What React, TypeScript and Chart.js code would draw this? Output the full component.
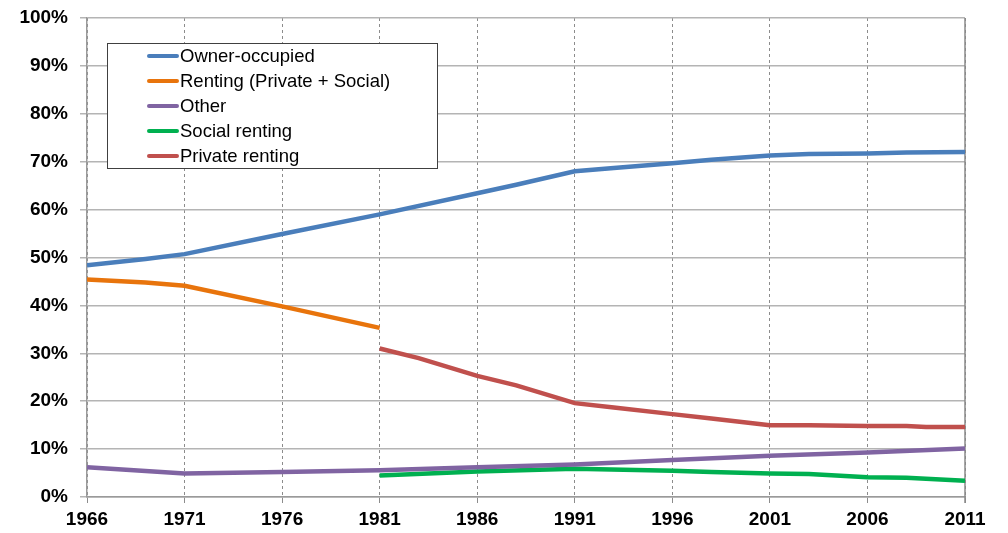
import React, { useEffect, useRef } from "react";
import { Chart, registerables } from "chart.js";

Chart.register(...registerables);

const X_TICKS = [1966, 1971, 1976, 1981, 1986, 1991, 1996, 2001, 2006, 2011];
const Y_TICKS = [0, 10, 20, 30, 40, 50, 60, 70, 80, 90, 100];

const OWNER_YEARS = [1966, 1969, 1971, 1976, 1981, 1986, 1988, 1991, 1993, 1996, 1998, 2001, 2003, 2006, 2008, 2011];
const OWNER_VALUES = [48.4, 49.7, 50.7, 54.9, 59.0, 63.4, 65.2, 68.0, 68.7, 69.7, 70.4, 71.3, 71.6, 71.7, 71.9, 72.0];

const RENTING_YEARS = [1966, 1969, 1971, 1976, 1981];
const RENTING_VALUES = [45.4, 44.8, 44.1, 39.8, 35.3];

const OTHER_YEARS = [1966, 1971, 1976, 1981, 1986, 1991, 1996, 2001, 2006, 2011];
const OTHER_VALUES = [6.2, 4.9, 5.2, 5.6, 6.2, 6.8, 7.7, 8.6, 9.3, 10.1];

const SOCIAL_YEARS = [1981, 1986, 1991, 1996, 1998, 2001, 2003, 2006, 2008, 2011];
const SOCIAL_VALUES = [4.5, 5.3, 5.9, 5.5, 5.2, 4.9, 4.8, 4.1, 4.0, 3.4];

const PRIVATE_YEARS = [1981, 1983, 1986, 1988, 1991, 1993, 1996, 1998, 2001, 2003, 2006, 2008, 2009, 2011];
const PRIVATE_VALUES = [31.0, 29.0, 25.3, 23.3, 19.6, 18.7, 17.3, 16.4, 15.0, 15.0, 14.8, 14.8, 14.6, 14.6];

const LABELS = ["Owner-occupied", "Renting (Private + Social)", "Other", "Social renting", "Private renting"];
const COLORS = ["#4A7EBB", "#E8740C", "#8064A2", "#00B050", "#C0504D"];

const FONT = '"Liberation Sans", Arial, sans-serif';

const toPoints = (xs: number[], ys: number[]) => xs.map((x, i) => ({ x, y: ys[i] }));

const insideLegend = {
  id: "insideLegend",
  afterDraw(chart: any) {
    const { ctx, chartArea } = chart;
    const x = chartArea.left + 20;
    const y = chartArea.top + 25;
    const w = 330;
    const h = 125;
    ctx.save();
    ctx.fillStyle = "#ffffff";
    ctx.fillRect(x, y, w, h);
    ctx.strokeStyle = "#404040";
    ctx.lineWidth = 1;
    ctx.strokeRect(x + 0.5, y + 0.5, w, h);
    ctx.font = `18.5px ${FONT}`;
    ctx.textBaseline = "middle";
    ctx.textAlign = "left";
    chart.data.datasets.forEach((ds: any, i: number) => {
      const cy = y + 13 + i * 25;
      ctx.strokeStyle = ds.borderColor;
      ctx.lineWidth = 4;
      ctx.lineCap = "round";
      ctx.beginPath();
      ctx.moveTo(x + 42, cy);
      ctx.lineTo(x + 70, cy);
      ctx.stroke();
      ctx.fillStyle = "#000000";
      ctx.fillText(ds.label, x + 73, cy + 1);
    });
    ctx.restore();
  },
};

const rightBorder = {
  id: "rightBorder",
  beforeDatasetsDraw(chart: any) {
    const { ctx, chartArea } = chart;
    ctx.save();
    ctx.strokeStyle = "#8a8a8a";
    ctx.lineWidth = 1.5;
    ctx.beginPath();
    ctx.moveTo(chartArea.right, chartArea.top);
    ctx.lineTo(chartArea.right, chartArea.bottom + 6);
    ctx.stroke();
    ctx.restore();
  },
};

export default function App() {
  const ref = useRef<HTMLCanvasElement | null>(null);

  useEffect(() => {
    if (!ref.current) return;
    const series = [
      [OWNER_YEARS, OWNER_VALUES],
      [RENTING_YEARS, RENTING_VALUES],
      [OTHER_YEARS, OTHER_VALUES],
      [SOCIAL_YEARS, SOCIAL_VALUES],
      [PRIVATE_YEARS, PRIVATE_VALUES],
    ];
    const chart = new Chart(ref.current, {
      type: "line",
      data: {
        datasets: series.map(([xs, ys], i) => ({
          label: LABELS[i],
          data: toPoints(xs, ys),
          borderColor: COLORS[i],
          backgroundColor: COLORS[i],
          borderWidth: 4.5,
          pointRadius: 0,
          tension: 0,
          fill: false,
          order: i === 3 ? 2.5 : i,
        })),
      },
      options: {
        responsive: false,
        animation: false,
        layout: { padding: { top: 18, right: 43, left: 0, bottom: 0 } },
        plugins: {
          legend: { display: false },
          tooltip: { enabled: false },
        },
        scales: {
          x: {
            type: "linear",
            min: 1966,
            max: 2011,
            afterBuildTicks: (scale: any) => {
              scale.ticks = X_TICKS.map((v) => ({ value: v }));
            },
            afterFit: (scale: any) => {
              scale.height = 36;
              scale.paddingLeft = 0;
              scale.paddingRight = 0;
            },
            ticks: {
              callback: (v: any) => String(v),
              color: "#000000",
              font: { family: FONT, size: 19, weight: "bold" },
              padding: 5,
              maxRotation: 0,
              autoSkip: false,
            },
            grid: {
              color: "#8c8c8c",
              lineWidth: 1,
              tickLength: 6,
              drawTicks: true,
            },
            border: { display: true, color: "#9a9a9a", width: 1.5, dash: [3, 3] },
          },
          y: {
            min: 0,
            max: 100,
            afterBuildTicks: (scale: any) => {
              scale.ticks = Y_TICKS.map((v) => ({ value: v }));
            },
            afterFit: (scale: any) => {
              scale.width = 87;
              scale.paddingTop = 0;
              scale.paddingBottom = 0;
            },
            ticks: {
              callback: (v: any) => `${v}%`,
              color: "#000000",
              font: { family: FONT, size: 19, weight: "bold" },
              padding: 12,
            },
            grid: {
              color: "#b4b4b4",
              lineWidth: 1.5,
              tickLength: 7,
              drawTicks: true,
            },
            border: { display: true, color: "#9a9a9a", width: 1.5 },
          },
        },
      },
      plugins: [rightBorder, insideLegend],
    } as any);
    return () => chart.destroy();
  }, []);

  return (
    <div style={{ position: "fixed", left: 0, top: 0, width: 1008, height: 533, background: "#ffffff" }}>
      <canvas ref={ref} width={1008} height={533} />
    </div>
  );
}
